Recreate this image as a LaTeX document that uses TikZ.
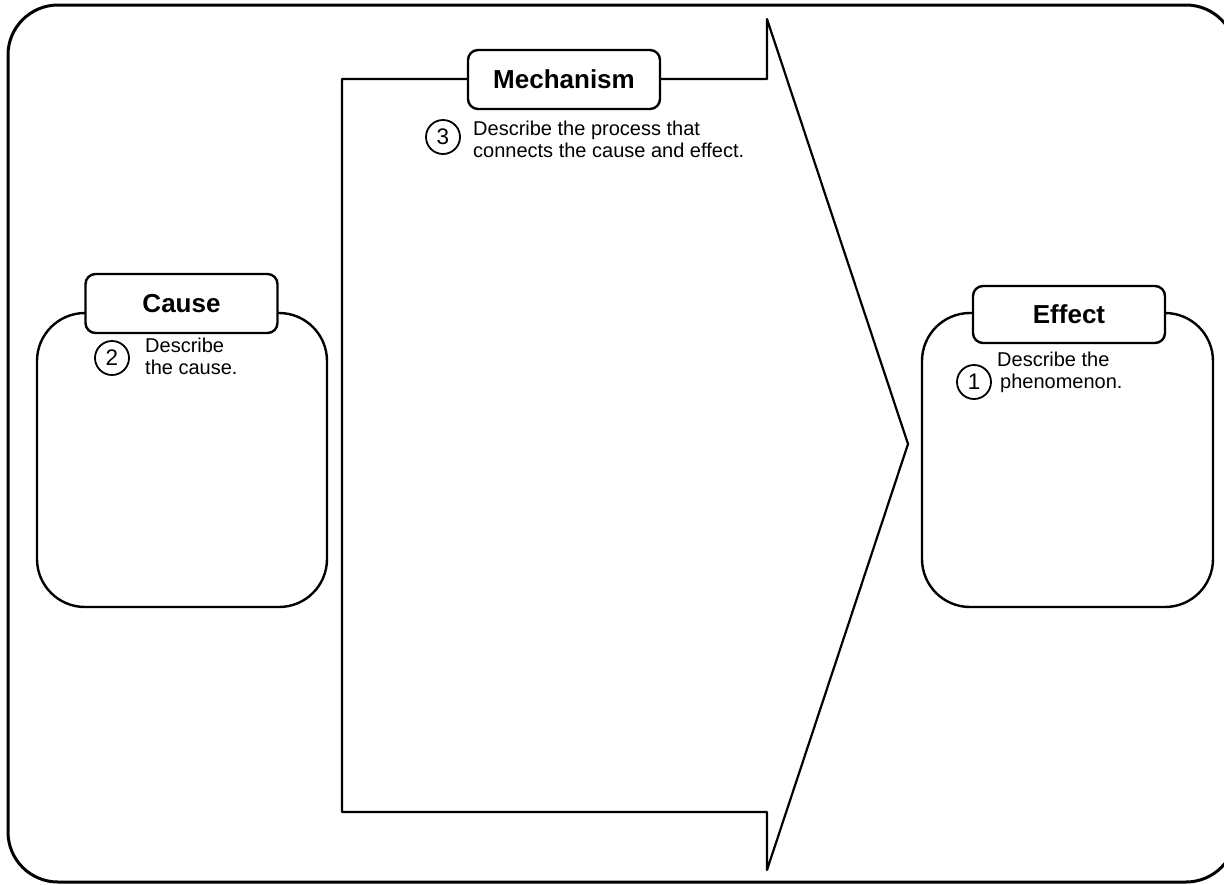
\documentclass[tikz,border=0pt]{standalone}
\usepackage{fontspec}
\setmainfont{Liberation Sans}
\begin{document}
\begin{tikzpicture}[x=1pt,y=-1pt,line join=round]
\useasboundingbox (0,0) rectangle (1224,884);
\tikzset{
  tab/.style={draw, line width=2.4pt, fill=white, rounded corners=10pt, minimum width=192pt, minimum height=59pt, inner sep=0pt, font=\fontsize{26}{30}\selectfont\bfseries},
  num/.style={draw, circle, line width=1.8pt, minimum size=34pt, inner sep=0pt, font=\fontsize{22.5}{24}\selectfont},
  desc/.style={anchor=west, align=left, inner sep=0pt, font=\fontsize{20}{22.5}\selectfont},
  bigbox/.style={draw, line width=2.4pt, rounded corners=48pt},
  frame/.style={draw, line width=3pt, rounded corners=50pt},
  arrowshape/.style={draw, line width=2.2pt}
}
% outer frame
\begin{scope}
  \clip (0,0) rectangle (1224,884);
  \draw[frame] (8,5) rectangle (1236,882);
\end{scope}
% big arrow
\draw[arrowshape] (342,79) -- (767,79) -- (767,19) -- (908,444) -- (767,870) -- (767,812) -- (342,812) -- cycle;
% cause and effect boxes
\draw[bigbox] (37,313) rectangle (327,607);
\draw[bigbox] (922,313) rectangle (1213,607);
% tabs
\node[tab] (mech) at (564,79.5) {Mechanism};
\node[tab] (cause) at (181.5,303.5) {Cause};
\node[tab, minimum height=57pt] (effect) at (1069,314.5) {Effect};
% numbered circles
\node[num] (n3) at (443,137) {3};
\node[num] (n2) at (112,358) {2};
\node[num] (n1) at (974,382) {1};
% descriptions
\node[desc] (t3) at (473,139.5) {Describe the process that\\connects the cause and effect.};
\node[desc] (t2) at (145,356.5) {Describe\\the cause.};
\node[desc] (t1) at (997,372.5) {Describe the\\\hspace*{3pt}phenomenon.};
\end{tikzpicture}
\end{document}
